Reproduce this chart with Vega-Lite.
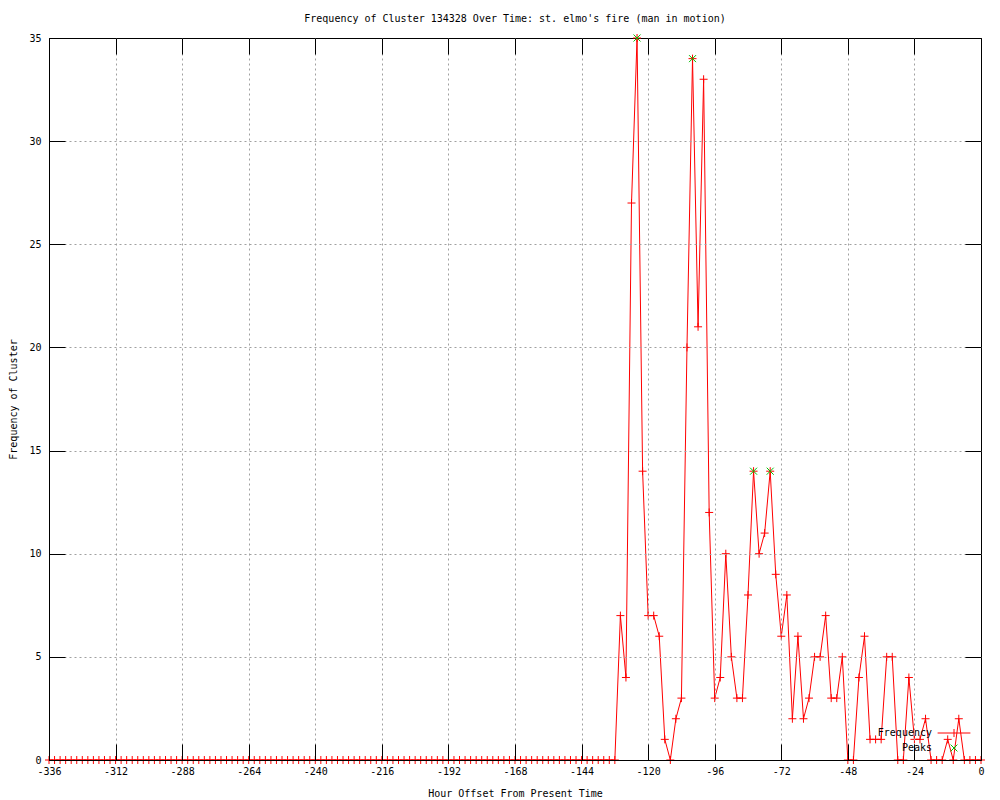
{
  "$schema": "https://vega.github.io/schema/vega-lite/v6.json",
  "width": 932,
  "height": 722,
  "autosize": {"type": "none"},
  "padding": {"left": 49, "top": 38, "right": 19, "bottom": 40},
  "background": "white",
  "title": {"text": "Frequency of Cluster 134328 Over Time: st. elmo's fire (man in motion)", "font": "DejaVu Sans Mono", "fontSize": 10, "fontWeight": "normal", "color": "black", "anchor": "middle", "offset": 8},
  "config": {
    "view": {"stroke": "black", "strokeWidth": 1},
    "font": "DejaVu Sans Mono",
    "axis": {
      "labelFont": "DejaVu Sans Mono", "labelFontSize": 10, "labelColor": "black",
      "titleFont": "DejaVu Sans Mono", "titleFontSize": 10, "titleFontWeight": "normal", "titleColor": "black",
      "domainColor": "black", "domainWidth": 1, "tickColor": "black", "tickWidth": 1, "tickSize": -16,
      "gridColor": "#a0a0a0", "gridDash": [2, 3], "gridWidth": 1,
      "labelFlush": false, "labelOverlap": false
    }
  },
  "datasets": {
    "freq": [
      {"hour": -336, "count": 0}, {"hour": -334, "count": 0}, {"hour": -332, "count": 0}, {"hour": -330, "count": 0},
      {"hour": -328, "count": 0}, {"hour": -326, "count": 0}, {"hour": -324, "count": 0}, {"hour": -322, "count": 0},
      {"hour": -320, "count": 0}, {"hour": -318, "count": 0}, {"hour": -316, "count": 0}, {"hour": -314, "count": 0},
      {"hour": -312, "count": 0}, {"hour": -310, "count": 0}, {"hour": -308, "count": 0}, {"hour": -306, "count": 0},
      {"hour": -304, "count": 0}, {"hour": -302, "count": 0}, {"hour": -300, "count": 0}, {"hour": -298, "count": 0},
      {"hour": -296, "count": 0}, {"hour": -294, "count": 0}, {"hour": -292, "count": 0}, {"hour": -290, "count": 0},
      {"hour": -288, "count": 0}, {"hour": -286, "count": 0}, {"hour": -284, "count": 0}, {"hour": -282, "count": 0},
      {"hour": -280, "count": 0}, {"hour": -278, "count": 0}, {"hour": -276, "count": 0}, {"hour": -274, "count": 0},
      {"hour": -272, "count": 0}, {"hour": -270, "count": 0}, {"hour": -268, "count": 0}, {"hour": -266, "count": 0},
      {"hour": -264, "count": 0}, {"hour": -262, "count": 0}, {"hour": -260, "count": 0}, {"hour": -258, "count": 0},
      {"hour": -256, "count": 0}, {"hour": -254, "count": 0}, {"hour": -252, "count": 0}, {"hour": -250, "count": 0},
      {"hour": -248, "count": 0}, {"hour": -246, "count": 0}, {"hour": -244, "count": 0}, {"hour": -242, "count": 0},
      {"hour": -240, "count": 0}, {"hour": -238, "count": 0}, {"hour": -236, "count": 0}, {"hour": -234, "count": 0},
      {"hour": -232, "count": 0}, {"hour": -230, "count": 0}, {"hour": -228, "count": 0}, {"hour": -226, "count": 0},
      {"hour": -224, "count": 0}, {"hour": -222, "count": 0}, {"hour": -220, "count": 0}, {"hour": -218, "count": 0},
      {"hour": -216, "count": 0}, {"hour": -214, "count": 0}, {"hour": -212, "count": 0}, {"hour": -210, "count": 0},
      {"hour": -208, "count": 0}, {"hour": -206, "count": 0}, {"hour": -204, "count": 0}, {"hour": -202, "count": 0},
      {"hour": -200, "count": 0}, {"hour": -198, "count": 0}, {"hour": -196, "count": 0}, {"hour": -194, "count": 0},
      {"hour": -192, "count": 0}, {"hour": -190, "count": 0}, {"hour": -188, "count": 0}, {"hour": -186, "count": 0},
      {"hour": -184, "count": 0}, {"hour": -182, "count": 0}, {"hour": -180, "count": 0}, {"hour": -178, "count": 0},
      {"hour": -176, "count": 0}, {"hour": -174, "count": 0}, {"hour": -172, "count": 0}, {"hour": -170, "count": 0},
      {"hour": -168, "count": 0}, {"hour": -166, "count": 0}, {"hour": -164, "count": 0}, {"hour": -162, "count": 0},
      {"hour": -160, "count": 0}, {"hour": -158, "count": 0}, {"hour": -156, "count": 0}, {"hour": -154, "count": 0},
      {"hour": -152, "count": 0}, {"hour": -150, "count": 0}, {"hour": -148, "count": 0}, {"hour": -146, "count": 0},
      {"hour": -144, "count": 0}, {"hour": -142, "count": 0}, {"hour": -140, "count": 0}, {"hour": -138, "count": 0},
      {"hour": -136, "count": 0}, {"hour": -134, "count": 0}, {"hour": -132, "count": 0}, {"hour": -130, "count": 7},
      {"hour": -128, "count": 4}, {"hour": -126, "count": 27}, {"hour": -124, "count": 35}, {"hour": -122, "count": 14},
      {"hour": -120, "count": 7}, {"hour": -118, "count": 7}, {"hour": -116, "count": 6}, {"hour": -114, "count": 1},
      {"hour": -112, "count": 0}, {"hour": -110, "count": 2}, {"hour": -108, "count": 3}, {"hour": -106, "count": 20},
      {"hour": -104, "count": 34}, {"hour": -102, "count": 21}, {"hour": -100, "count": 33}, {"hour": -98, "count": 12},
      {"hour": -96, "count": 3}, {"hour": -94, "count": 4}, {"hour": -92, "count": 10}, {"hour": -90, "count": 5},
      {"hour": -88, "count": 3}, {"hour": -86, "count": 3}, {"hour": -84, "count": 8}, {"hour": -82, "count": 14},
      {"hour": -80, "count": 10}, {"hour": -78, "count": 11}, {"hour": -76, "count": 14}, {"hour": -74, "count": 9},
      {"hour": -72, "count": 6}, {"hour": -70, "count": 8}, {"hour": -68, "count": 2}, {"hour": -66, "count": 6},
      {"hour": -64, "count": 2}, {"hour": -62, "count": 3}, {"hour": -60, "count": 5}, {"hour": -58, "count": 5},
      {"hour": -56, "count": 7}, {"hour": -54, "count": 3}, {"hour": -52, "count": 3}, {"hour": -50, "count": 5},
      {"hour": -48, "count": 0}, {"hour": -46, "count": 0}, {"hour": -44, "count": 4}, {"hour": -42, "count": 6},
      {"hour": -40, "count": 1}, {"hour": -38, "count": 1}, {"hour": -36, "count": 1}, {"hour": -34, "count": 5},
      {"hour": -32, "count": 5}, {"hour": -30, "count": 0}, {"hour": -28, "count": 0}, {"hour": -26, "count": 4},
      {"hour": -24, "count": 1}, {"hour": -22, "count": 1}, {"hour": -20, "count": 2}, {"hour": -18, "count": 0},
      {"hour": -16, "count": 0}, {"hour": -14, "count": 0}, {"hour": -12, "count": 1}, {"hour": -10, "count": 0},
      {"hour": -8, "count": 2}, {"hour": -6, "count": 0}, {"hour": -4, "count": 0}, {"hour": -2, "count": 0},
      {"hour": 0, "count": 0}
    ],
    "peaks": [
      {"hour": -124, "count": 35}, {"hour": -104, "count": 34}, {"hour": -82, "count": 14}, {"hour": -76, "count": 14}
    ]
  },
  "layer": [
    {
      "data": {"name": "freq"},
      "mark": {"type": "line", "color": "red", "strokeWidth": 1},
      "encoding": {
        "x": {"field": "hour", "type": "quantitative", "scale": {"domain": [-336, 0], "nice": false, "zero": false},
              "axis": {"orient": "bottom", "values": [-336, -312, -288, -264, -240, -216, -192, -168, -144, -120, -96, -72, -48, -24, 0],
                       "labelExpr": "'' + datum.value", "labelPadding": 22, "title": "Hour Offset From Present Time", "titlePadding": 12, "grid": true, "zindex": 1,
                       "gridOpacity": {"condition": {"test": "datum.value == -336 || datum.value == 0", "value": 0}, "value": 1}}},
        "y": {"field": "count", "type": "quantitative", "scale": {"domain": [0, 35], "nice": false},
              "axis": {"orient": "left", "values": [0, 5, 10, 15, 20, 25, 30, 35], "labelPadding": 24, "title": "Frequency of Cluster", "titlePadding": 10, "grid": true, "zindex": 1,
                       "gridOpacity": {"condition": {"test": "datum.value == 0 || datum.value == 35", "value": 0}, "value": 1}}},
        "color": {"datum": "Frequency", "type": "nominal",
                  "scale": {"domain": ["Frequency", "Peaks"], "range": ["red", "#00c000"]},
                  "legend": {"orient": "none", "legendX": 900, "legendY": 690, "title": null, "padding": 0,
                             "labelFont": "DejaVu Sans Mono", "labelFontSize": 10, "labelColor": "black",
                             "labelAlign": "right", "labelOffset": -27, "symbolSize": 64, "rowPadding": 3,
                             "encode": {"symbols": {"update": {
                               "shape": {"signal": "datum.value === 'Peaks' ? 'M-0.85,-0.85L0.85,0.85M0.85,-0.85L-0.85,0.85' : 'M-4.1,0L4.1,0M0,-1L0,1'"},
                               "stroke": {"scale": "color", "field": "value"},
                               "fill": {"value": "transparent"},
                               "strokeWidth": {"value": 1},
                               "opacity": {"value": 1}}}}}}
      }
    },
    {
      "data": {"name": "freq"},
      "mark": {"type": "point", "shape": "M-1,0L1,0M0,-1L0,1", "filled": false, "size": 64, "strokeWidth": 1, "opacity": 1},
      "encoding": {
        "x": {"field": "hour", "type": "quantitative", "axis": null},
        "y": {"field": "count", "type": "quantitative", "axis": null},
        "color": {"datum": "Frequency", "type": "nominal"}
      }
    },
    {
      "data": {"name": "peaks"},
      "mark": {"type": "point", "shape": "M-1,-1L1,1M1,-1L-1,1", "filled": false, "size": 49, "strokeWidth": 1, "opacity": 1},
      "encoding": {
        "x": {"field": "hour", "type": "quantitative",
              "axis": {"orient": "top", "values": [-336, -312, -288, -264, -240, -216, -192, -168, -144, -120, -96, -72, -48, -24, 0], "labels": false, "title": null, "grid": false, "domain": false, "zindex": 1}},
        "y": {"field": "count", "type": "quantitative",
              "axis": {"orient": "right", "values": [0, 5, 10, 15, 20, 25, 30, 35], "labels": false, "title": null, "grid": false, "domain": false, "zindex": 1}},
        "color": {"datum": "Peaks", "type": "nominal"}
      }
    }
  ],
  "resolve": {"axis": {"x": "independent", "y": "independent"}}
}
